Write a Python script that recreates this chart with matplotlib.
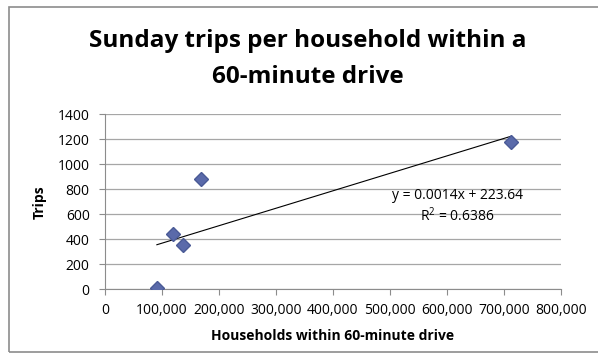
import matplotlib
matplotlib.use('Agg')
import matplotlib.pyplot as plt
import matplotlib.patches as mpatches
import numpy as np

households = [91000, 120000, 136000, 168000, 713000]
trips = [10, 440, 354, 882, 1176]
x_ticks = [0, 100000, 200000, 300000, 400000, 500000, 600000, 700000, 800000]
y_ticks = [0, 200, 400, 600, 800, 1000, 1200, 1400]
equation = 'y = 0.0014x + 223.64'
r_squared = 'R$^2$ = 0.6386'

plt.rcParams['font.family'] = ['Open Sans', 'DejaVu Sans']
plt.rcParams['mathtext.fontset'] = 'custom'
plt.rcParams['mathtext.rm'] = 'Open Sans'

fig = plt.figure(figsize=(5.98, 3.62), dpi=100)
ax = fig.add_axes([0.1756, 0.2008, 0.938 - 0.1756, 0.6843 - 0.2008])

# outer chart frame
frame = mpatches.Rectangle((9 / 598, 1 - 352 / 362), 1.0, (352 - 7) / 362,
                           transform=fig.transFigure, fill=False,
                           edgecolor='#8c8c8c', linewidth=1.2)
fig.patches.append(frame)

ax.plot(households, trips, linestyle='none', marker='D', markersize=7.5,
        markerfacecolor='#5a6aaa', markeredgecolor='#4a5a96', zorder=3)

slope, intercept = np.polyfit(households, trips, 1)
xs = np.array([min(households), max(households)])
ax.plot(xs, slope * xs + intercept, color='black', linewidth=0.8, zorder=2)

ax.set_xlim(0, 800000)
ax.set_ylim(0, 1400)
ax.set_xticks(x_ticks)
ax.set_yticks(y_ticks)
ax.set_xticklabels(['{:,}'.format(v) for v in x_ticks])
ax.tick_params(axis='both', labelsize=10, color='#8c8c8c', length=4)
ax.tick_params(axis='x', pad=6)
ax.tick_params(axis='y', pad=7)
ax.yaxis.grid(True, color='#a6a6a6', linewidth=0.9)
ax.set_axisbelow(True)
for side in ['top', 'right']:
    ax.spines[side].set_visible(False)
for side in ['left', 'bottom']:
    ax.spines[side].set_color('#8c8c8c')

ax.set_xlabel('Households within 60-minute drive', fontsize=10, fontweight='bold', labelpad=8)
ax.set_ylabel('Trips', fontsize=10, fontweight='bold', labelpad=8)

fig.text(457 / 598, 1 - 196 / 362, equation, ha='center', va='center', fontsize=10)
fig.text(457 / 598, 1 - 216 / 362, r_squared, ha='center', va='center', fontsize=10)

fig.text(308 / 598, 1 - 47 / 362, 'Sunday trips per household within a',
         ha='center', va='baseline', fontsize=17.5, fontweight='bold')
fig.text(308 / 598, 1 - 83 / 362, '60-minute drive',
         ha='center', va='baseline', fontsize=17.5, fontweight='bold')

fig.savefig('out.png', dpi=100)
